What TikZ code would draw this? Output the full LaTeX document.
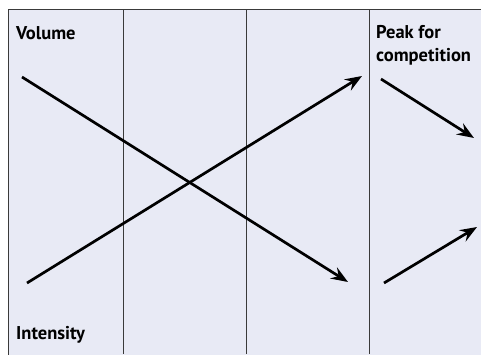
\documentclass[tikz,border=0pt]{standalone}
\usepackage{fontspec}
\setmainfont{PT Sans}
\usetikzlibrary{arrows.meta}
\definecolor{bgc}{HTML}{E8EAF5}
\definecolor{frame}{HTML}{3A3A3A}
\begin{document}
\begin{tikzpicture}[x=1pt,y=-1pt,
  grid/.style={draw=frame,line width=1pt},
  arr/.style={line width=2.7pt,-{Stealth[length=17pt,width=13pt,inset=6pt]}},
  lbl/.style={font=\fontsize{18.5}{23}\selectfont\bfseries,anchor=base west,inner sep=0pt,align=left}]
\useasboundingbox (0,0) rectangle (481,354);
\fill[white] (0,0) rectangle (481,354);
\filldraw[fill=bgc,draw=frame,line width=1pt] (8,9) rectangle (490,370);
\draw[grid] (123,9) -- (123,354);
\draw[grid] (246,9) -- (246,354);
\draw[grid] (369,9) -- (369,354);
\node[lbl] (vol) at (16,39) {Volume};
\node[lbl] (int) at (16,339) {Intensity};
\node[lbl] (peak) at (376,38) {Peak for};
\node[lbl] (comp) at (376,61) {competition};
\coordinate (a1) at (22,77); \coordinate (a2) at (348,282);
\coordinate (b1) at (27,283); \coordinate (b2) at (362,76);
\coordinate (c1) at (381,79); \coordinate (c2) at (474,138);
\coordinate (d1) at (384,283); \coordinate (d2) at (477,227);
\draw[arr] (a1) -- (a2);
\draw[arr] (b1) -- (b2);
\draw[arr] (c1) -- (c2);
\draw[arr] (d1) -- (d2);
\end{tikzpicture}
\end{document}
